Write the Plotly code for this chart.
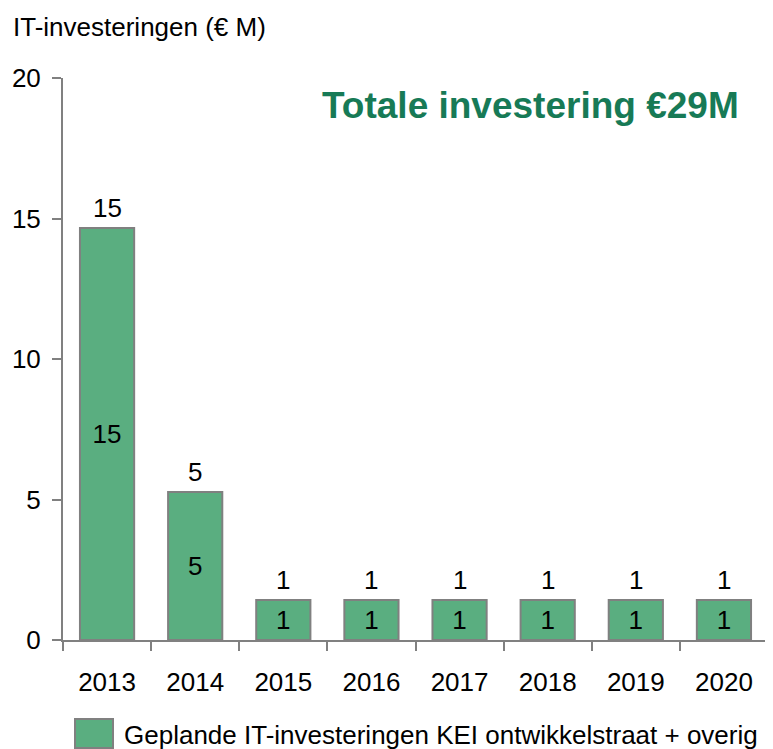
import plotly.graph_objects as go

years = ["2013", "2014", "2015", "2016", "2017", "2018", "2019", "2020"]
values = [14.66, 5.27, 1.42, 1.42, 1.42, 1.42, 1.42, 1.42]
labels = ["15", "5", "1", "1", "1", "1", "1", "1"]
y_ticks = [0, 5, 10, 15, 20]
series_name = "Geplande IT-investeringen KEI ontwikkelstraat + overig"
y_title = "IT-investeringen (€ M)"
total_text = "Totale investering €29M"

FONT = "Liberation Sans, Arial, sans-serif"
BAR = "#5aae80"
EDGE = "#808080"
FS = 26

# page body has an 8px default margin; compensate so plot area lands at x 63..768, y 78..640
OFF = 8
PL, PT, PW, PH = 63, 78, 705, 562


def px(x):
    return (x - PL) / PW


def py(y):
    return (PT + PH - y) / PH


fig = go.Figure()
fig.add_trace(go.Bar(
    x=years, y=values, text=labels, textposition="inside",
    insidetextanchor="middle", textangle=0, constraintext="none",
    textfont=dict(family=FONT, size=FS, color="black"),
    marker=dict(color=BAR, line=dict(color=EDGE, width=2)),
    name=series_name, showlegend=False, hoverinfo="skip",
))

annotations = [
    dict(x=i, y=v, text=lab, xref="x", yref="y", yanchor="bottom",
         xanchor="center", yshift=3, showarrow=False,
         font=dict(family=FONT, size=FS, color="black"))
    for i, (v, lab) in enumerate(zip(values, labels))
]
annotations += [
    dict(text=y_title, xref="paper", yref="paper",
         x=px(11), y=py(27), xanchor="left", yanchor="middle",
         showarrow=False, font=dict(family=FONT, size=FS, color="black")),
    dict(text=total_text, xref="paper", yref="paper",
         x=px(530), y=py(105), xanchor="center", yanchor="middle",
         showarrow=False, font=dict(family=FONT, size=37, color="#177a56", weight="bold")),
    dict(text=series_name, xref="paper", yref="paper",
         x=px(122), y=py(735), xanchor="left", yanchor="middle",
         showarrow=False, font=dict(family=FONT, size=26, color="black")),
]

fig.update_layout(
    width=773 - OFF, height=749 - OFF,
    margin=dict(l=PL - OFF, r=773 - OFF - (PL - OFF) - PW, t=PT - OFF,
                b=749 - OFF - (PT - OFF) - PH, autoexpand=False),
    plot_bgcolor="white", paper_bgcolor="white",
    bargap=0.385,
    font=dict(family=FONT, size=FS, color="black"),
    xaxis=dict(
        type="category", range=[-0.5, len(years) - 0.5],
        showline=True, linecolor=EDGE, linewidth=2,
        ticks="outside", tickson="boundaries", ticklen=9, tickwidth=2,
        tickcolor=EDGE, showgrid=False, zeroline=False,
        tickfont=dict(family=FONT, size=FS, color="black"),
        ticklabelstandoff=18,
    ),
    yaxis=dict(
        range=[0, 20], tickvals=y_ticks, showline=True, linecolor=EDGE,
        linewidth=2, ticks="outside", ticklen=9, tickwidth=2, tickcolor=EDGE,
        showgrid=False, zeroline=False,
        tickfont=dict(family=FONT, size=FS, color="black"),
        ticklabelstandoff=6,
    ),
    shapes=[dict(
        type="rect", xref="paper", yref="paper",
        x0=px(75), x1=px(113), y0=py(748), y1=py(719),
        fillcolor=BAR, line=dict(color=EDGE, width=2),
    )],
    annotations=annotations,
)

fig.write_html("out.html")
